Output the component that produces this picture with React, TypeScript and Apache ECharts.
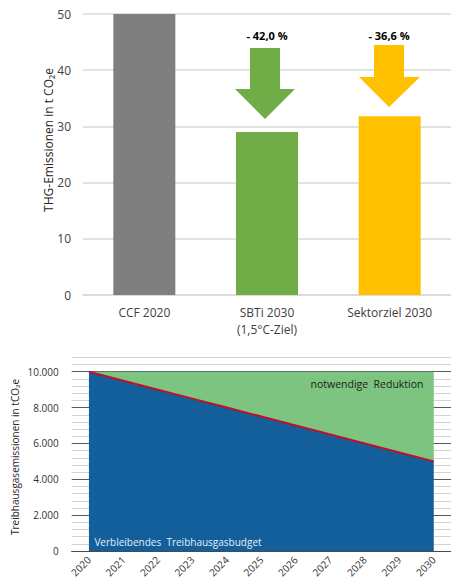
import React, { useEffect, useRef } from "react";
import * as echarts from "echarts";

const topCategories = ["CCF 2020", "SBTi 2030\n(1,5°C-Ziel)", "Sektorziel 2030"];
const topValues = [50, 29.0, 31.8];
const topColors = ["#7f7f7f", "#70ad47", "#ffc000"];
const topTicks = [0, 10, 20, 30, 40, 50];
const reductionLabels = ["- 42,0 %", "- 36,6 %"];

const years = ["2020", "2021", "2022", "2023", "2024", "2025", "2026", "2027", "2028", "2029", "2030"];
const budgetValues = [10000, 9500, 9000, 8500, 8000, 7500, 7000, 6500, 6000, 5500, 5000];
const reductionValues = [0, 500, 1000, 1500, 2000, 2500, 3000, 3500, 4000, 4500, 5000];

const FONT = "'Open Sans', 'Noto Sans', sans-serif";

export default function App() {
  const ref = useRef<HTMLDivElement>(null);
  useEffect(() => {
    if (!ref.current) return;
    const chart = echarts.init(ref.current, null, { renderer: "svg" });
    const minorColors = ["#5a5a5a", "#d4d4d4", "#d4d4d4", "#d4d4d4", "#d4d4d4"];
    chart.setOption({
      animation: false,
      textStyle: { fontFamily: FONT },
      grid: [
        { left: 83, right: 0, top: 14, height: 281 },
        { left: 71.7, right: -2, top: 357.4, height: 193.6 },
      ],
      xAxis: [
        {
          type: "category",
          gridIndex: 0,
          data: topCategories,
          axisLine: { show: true, lineStyle: { color: "#d9d9d9", width: 1.5 } },
          axisTick: { show: false },
          axisLabel: { color: "#404040", fontSize: 12, lineHeight: 17, margin: 9, fontFamily: FONT },
        },
        {
          type: "category",
          gridIndex: 1,
          data: years,
          boundaryGap: true,
          axisLine: { show: true, lineStyle: { color: "#4a4a4a", width: 1 } },
          axisTick: { show: false },
          axisLabel: { color: "#333", fontSize: 10, rotate: 45, margin: 7, interval: 0, fontFamily: FONT },
        },
      ],
      yAxis: [
        {
          type: "value",
          gridIndex: 0,
          min: topTicks[0],
          max: topTicks[topTicks.length - 1],
          interval: 10,
          axisLine: { show: false },
          axisTick: { show: false },
          axisLabel: { color: "#404040", fontSize: 12, margin: 12, fontFamily: FONT },
          splitLine: { lineStyle: { color: "#d9d9d9", width: 1.5 } },
        },
        {
          type: "value",
          gridIndex: 1,
          min: 0,
          max: 10800,
          interval: 400,
          axisLine: { show: false },
          axisTick: { show: false },
          axisLabel: {
            color: "#333",
            fontSize: 10,
            margin: 13,
            fontFamily: FONT,
            formatter: (v: number) =>
              v % 2000 === 0 && v <= 10000 ? String(v).replace(/\B(?=(\d{3})+(?!\d))/g, ".") : "",
          },
          splitLine: { lineStyle: { color: minorColors, width: 1 } },
        },
      ],
      series: [
        {
          type: "bar",
          xAxisIndex: 0,
          yAxisIndex: 0,
          barWidth: 62,
          data: topValues.map((v, i) => ({ value: v, itemStyle: { color: topColors[i] } })),
        },
        {
          type: "line",
          xAxisIndex: 1,
          yAxisIndex: 1,
          stack: "total",
          symbol: "none",
          lineStyle: { width: 0 },
          areaStyle: { color: "#125f9b", opacity: 1 },
          data: budgetValues,
          z: 2,
        },
        {
          type: "line",
          xAxisIndex: 1,
          yAxisIndex: 1,
          stack: "total",
          symbol: "none",
          lineStyle: { width: 0 },
          areaStyle: { color: "#7cc47f", opacity: 1 },
          data: reductionValues,
          z: 2,
        },
        {
          type: "line",
          xAxisIndex: 1,
          yAxisIndex: 1,
          symbol: "none",
          lineStyle: { color: "#c0102a", width: 2 },
          data: budgetValues,
          z: 3,
        },
      ],
      graphic: [
        {
          type: "text",
          x: 48,
          y: 140,
          rotation: Math.PI / 2,
          style: {
            text: "THG-Emissionen in t CO₂e",
            fill: "#262626",
            font: `12px ${FONT}`,
            align: "center",
            verticalAlign: "middle",
          },
        },
        {
          type: "text",
          x: 15,
          y: 457,
          rotation: Math.PI / 2,
          style: {
            text: "Treibhausgasemissionen in tCO₂e",
            fill: "#262626",
            font: `10px ${FONT}`,
            align: "center",
            verticalAlign: "middle",
          },
        },
        {
          type: "polygon",
          shape: { points: [[250, 48], [280, 48], [280, 89], [295, 89], [265, 119], [235, 89], [250, 89]] },
          style: { fill: "#70ad47" },
          z: 10,
        },
        {
          type: "polygon",
          shape: { points: [[374, 45], [404, 45], [404, 77], [420, 77], [389, 107], [359, 77], [374, 77]] },
          style: { fill: "#ffc000" },
          z: 10,
        },
        {
          type: "text",
          x: 267,
          y: 35,
          style: {
            text: reductionLabels[0],
            fill: "#000",
            font: `bold 11px ${FONT}`,
            align: "center",
            verticalAlign: "middle",
          },
        },
        {
          type: "text",
          x: 389,
          y: 35,
          style: {
            text: reductionLabels[1],
            fill: "#000",
            font: `bold 11px ${FONT}`,
            align: "center",
            verticalAlign: "middle",
          },
        },
        {
          type: "text",
          x: 367,
          y: 384,
          z: 10,
          style: {
            text: "notwendige  Reduktion",
            fill: "#1e1e1e",
            font: `10.5px ${FONT}`,
            align: "center",
            verticalAlign: "middle",
          },
        },
        {
          type: "text",
          x: 178,
          y: 542,
          z: 10,
          style: {
            text: "Verbleibendes  Treibhausgasbudget",
            fill: "#e6eef6",
            font: `10px ${FONT}`,
            align: "center",
            verticalAlign: "middle",
          },
        },
      ],
    });
    return () => chart.dispose();
  }, []);
  return (
    <div
      ref={ref}
      style={{ position: "absolute", left: 0, top: 0, width: 451, height: 583 }}
    />
  );
}
